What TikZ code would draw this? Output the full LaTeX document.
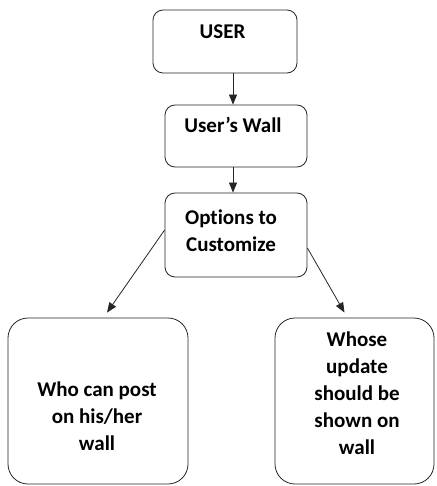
\documentclass[tikz,border=0pt]{standalone}
\usepackage{fontspec}
\setmainfont[Ligatures=NoCommon]{Carlito}
\usetikzlibrary{arrows.meta}
\newcommand{\boxFont}[0]{\fontsize{21}{27}\selectfont\bfseries}

\begin{document}
\begin{tikzpicture}[x=1pt, y=-1pt]
  \tikzset{flowbox/.style={draw=black!85, line width=0.8pt, rounded corners=10pt, inner sep=0pt},
    bigbox/.style={flowbox, rounded corners=20pt},
    flowtext/.style={align=center, inner sep=0pt, font=\boxFont},
    flowarrow/.style={draw=black!85, line width=0.8pt, -{Triangle[length=10pt,width=8pt]}}}
  \useasboundingbox (0,0) rectangle (436,486);
  \node[flowbox, minimum width=144pt, minimum height=63pt] (user) at (225,41.5) {};
  \node[flowbox, minimum width=142pt, minimum height=62pt] (wall) at (236,136) {};
  \node[flowbox, minimum width=142pt, minimum height=84pt] (opts) at (236,235) {};
  \node[bigbox, minimum width=180pt, minimum height=166pt] (who) at (98,401) {};
  \node[bigbox, minimum width=159pt, minimum height=166pt] (whose) at (354.5,401) {};
  \node[flowtext] (userText) at (222.5,32) {USER};
  \node[flowtext] (wallText) at (233,125) {User’s Wall};
  \node[flowtext] (optsText) at (231,231) {Options to\\Customize};
  \node[flowtext] (whoText) at (97,416) {Who can post\\on his/her\\wall};
  \node[flowtext] (whoseText) at (357,393) {Whose\\update\\should be\\shown on\\wall};
  \draw[flowarrow] ([xshift=8pt]user.south) -- ([xshift=-3pt]wall.north);
  \draw[flowarrow] ([xshift=-3pt]wall.south) -- ([xshift=-3pt]opts.north);
  \draw[flowarrow] ([yshift=5pt]opts.west) -- ([xshift=9pt,yshift=5pt]who.north);
  \draw[flowarrow] ([yshift=-13pt]opts.east) -- ([xshift=-10pt,yshift=5pt]whose.north);
\end{tikzpicture}
\end{document}
